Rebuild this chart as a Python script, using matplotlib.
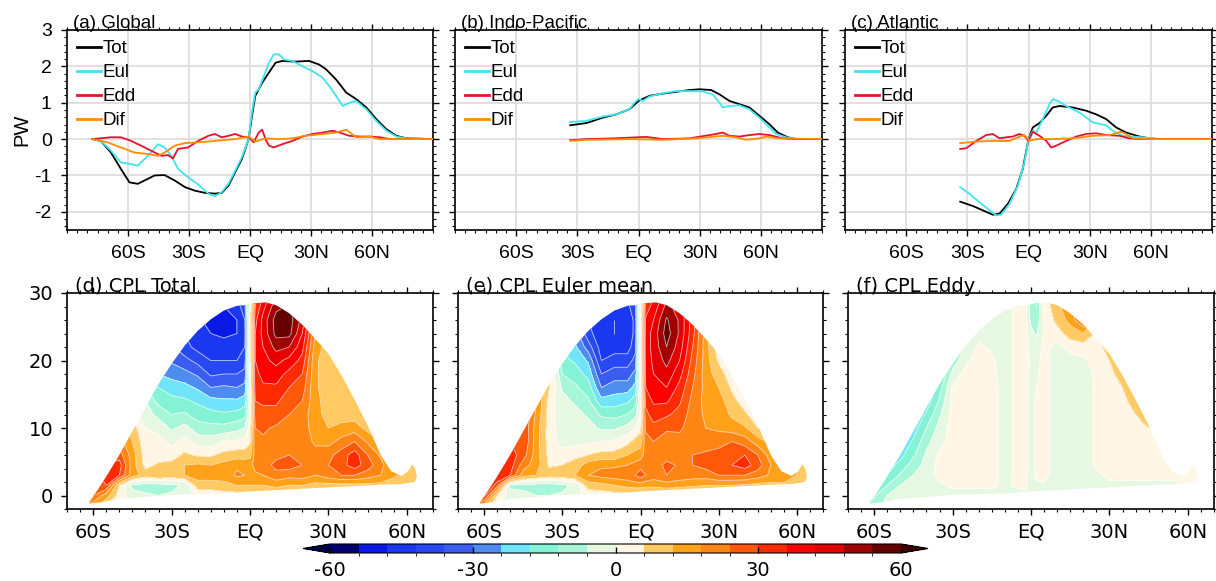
import numpy as np
import matplotlib
matplotlib.use('Agg')
import matplotlib.pyplot as plt
from matplotlib.colors import ListedColormap, BoundaryNorm
from matplotlib.patches import Polygon
from matplotlib.ticker import MultipleLocator
from matplotlib.lines import Line2D

# ---------------- top row: heat transport (PW) ----------------
glob_tot_lat = [-77.5, -73.4, -68.4, -63.5, -59.3, -55.2, -51.9, -46.9, -42, -37, -32, -27, -22.1, -17.2, -13.9, -10.6, -7.3, -4, -0.7, 1, 2.6, 6, 9.3, 12.6, 15.9, 22.5, 29, 34, 37.4, 42.3, 47.3, 52.2, 57.2, 62.1, 67.1, 72, 77, 90]
glob_tot = [0, -0.05, -0.37, -0.82, -1.19, -1.23, -1.14, -1.0, -0.99, -1.14, -1.32, -1.42, -1.48, -1.5, -1.48, -1.28, -0.91, -0.55, 0, 0.64, 1.19, 1.55, 1.83, 2.1, 2.15, 2.13, 2.15, 2.05, 1.92, 1.64, 1.28, 1.1, 0.87, 0.55, 0.27, 0.09, 0.02, 0]
glob_eul_lat = [-77.5, -73.4, -68.4, -63.5, -59.3, -55.2, -51.9, -48.6, -45.3, -42, -38.7, -35.4, -30.4, -25.5, -20.5, -17.2, -13.9, -10.6, -7.3, -4, -0.7, 1.0, 2.6, 4.3, 6.8, 9.3, 11.7, 14.2, 16.7, 20.8, 25.8, 30.7, 35.7, 39, 42.3, 45.6, 48.9, 52.2, 57.2, 62.1, 67.1, 72, 77, 90]
glob_eul = [0, -0.05, -0.32, -0.64, -0.68, -0.73, -0.55, -0.37, -0.14, -0.23, -0.46, -0.82, -1.05, -1.25, -1.5, -1.57, -1.46, -1.23, -0.87, -0.5, 0, 0.75, 1.28, 1.37, 1.73, 2.1, 2.33, 2.33, 2.19, 2.15, 2.0, 1.87, 1.69, 1.46, 1.19, 0.91, 1.0, 1.05, 0.82, 0.5, 0.23, 0.07, 0.02, 0]
glob_edd_lat = [-77.5, -68.4, -63.5, -58.5, -53.6, -48.6, -43.6, -40.3, -37.9, -35.4, -30.4, -25.5, -20.5, -17.2, -13.9, -10.6, -7.3, -4, -0.5, 1.8, 4.3, 6, 7.6, 9.3, 11.7, 15.9, 20.8, 25.8, 30.7, 35.7, 40.7, 44, 48.9, 53.9, 58.8, 63.8, 68.8, 90]
glob_edd = [0, 0.05, 0.05, -0.05, -0.18, -0.32, -0.46, -0.44, -0.53, -0.27, -0.23, -0.05, 0.09, 0.14, 0.05, 0.09, 0.14, 0.07, 0.05, -0.09, 0.18, 0.26, 0.0, -0.18, -0.23, -0.14, -0.05, 0.07, 0.14, 0.18, 0.23, 0.18, 0.09, 0.07, 0.07, 0.05, 0, 0]
glob_dif_lat = [-77.5, -70, -63.5, -56.9, -50.2, -45.3, -42, -37, -32, -25.5, -17.2, -7.3, -0.7, 1, 2.6, 7.6, 14.2, 20.8, 27.4, 35.7, 42.3, 47.3, 52.2, 58.8, 63.8, 90]
glob_dif = [0, -0.09, -0.23, -0.37, -0.41, -0.46, -0.37, -0.18, -0.11, -0.09, -0.05, 0, 0.07, 0, -0.07, 0.02, 0, 0.02, 0.09, 0.14, 0.18, 0.26, 0.05, 0.07, 0, 0]

ip_tot_lat = [-33.5, -25.6, -17.5, -10.9, -4.4, 0, 5.4, 11.9, 18.5, 25, 29.9, 35.6, 39.7, 44.6, 49.5, 54.4, 59.3, 64.2, 68.3, 73.2, 77.3, 90]
ip_tot = [0.38, 0.44, 0.59, 0.68, 0.82, 1.05, 1.19, 1.25, 1.30, 1.35, 1.37, 1.35, 1.23, 1.05, 0.96, 0.87, 0.64, 0.41, 0.18, 0.05, 0, 0]
ip_eul_lat = [-33.5, -25.6, -17.5, -10.9, -4.4, -2, 0, 2.1, 5.4, 11.9, 18.5, 25, 31.5, 36.4, 39.7, 41.3, 44.6, 49.5, 54.4, 59.3, 62.6, 67.5, 72.4, 77.3, 90]
ip_eul = [0.47, 0.5, 0.62, 0.68, 0.82, 1.0, 1.1, 1.05, 1.17, 1.26, 1.32, 1.32, 1.31, 1.23, 1.0, 0.87, 0.91, 0.93, 0.82, 0.59, 0.41, 0.14, 0.05, 0, 0]
ip_edd_lat = [-33.5, -25.6, -12.5, 3.8, 11.9, 25, 38, 41.3, 44.6, 49.5, 54.4, 59.3, 64.2, 70.7, 77.3, 90]
ip_edd = [-0.03, 0, 0.02, 0.06, 0, 0.02, 0.14, 0.18, 0.09, 0.07, 0.11, 0.14, 0.11, 0.02, 0, 0]
ip_dif_lat = [-33.5, -25.6, -4.4, 11.9, 28.3, 41.3, 47.9, 52.8, 59.3, 62.6, 69, 90]
ip_dif = [-0.05, -0.02, 0, -0.02, 0.02, 0.09, 0.05, -0.02, 0.02, 0.07, 0.02, 0]

atl_tot_lat = [-33.5, -27.3, -22.4, -17.5, -14.2, -10.1, -6, -2.8, 0, 2.1, 5.4, 8.7, 11.9, 15.2, 21.7, 28.3, 33.2, 38.1, 43, 47.9, 54.4, 59.3, 64.2, 90]
atl_tot = [-1.72, -1.84, -1.96, -2.08, -2.05, -1.78, -1.37, -0.82, 0, 0.32, 0.44, 0.64, 0.87, 0.91, 0.87, 0.78, 0.68, 0.55, 0.32, 0.18, 0.07, 0.02, 0, 0]
atl_eul_lat = [-33.5, -28.9, -24, -19.1, -15.8, -13.4, -9.3, -5.2, -2, 0, 2.1, 3.8, 7, 10.3, 11.9, 14.4, 18.5, 25, 31.5, 38.1, 41.3, 46.2, 51.1, 56, 64.2, 90]
atl_eul = [-1.32, -1.51, -1.74, -1.96, -2.1, -2.08, -1.78, -1.28, -0.64, 0, 0.23, 0.18, 0.55, 0.96, 1.1, 1.05, 0.91, 0.73, 0.46, 0.38, 0.23, 0.09, 0.07, 0.05, 0, 0]
atl_edd_lat = [-33.5, -30.5, -25.6, -20.8, -17.5, -14.2, -10.9, -7.7, -4.4, -2, 0, 2.1, 5.4, 8.7, 11.1, 13.6, 18.5, 23.4, 28.3, 33.2, 38.1, 44.6, 49.5, 54.4, 90]
atl_edd = [-0.27, -0.25, -0.05, 0.11, 0.14, 0.02, 0.05, 0.07, 0.14, 0.09, -0.05, 0.2, 0.09, -0.05, -0.23, -0.18, -0.05, 0.07, 0.14, 0.16, 0.11, 0.09, 0.02, 0, 0]
atl_dif_lat = [-33.5, -25.6, -17.5, -9.3, -4.4, -2, 0.5, 3.8, 11.9, 21.7, 31.5, 39.7, 45.4, 47.9, 51.1, 60, 90]
atl_dif = [-0.11, -0.07, -0.05, -0.05, 0.07, 0.11, -0.05, 0, 0, 0.02, 0.09, 0.11, 0.2, 0.14, 0.02, 0, 0]

top_titles = ['(a) Global', '(b) Indo-Pacific', '(c) Atlantic']
series_names = ['Tot', 'Eul', 'Edd', 'Dif']
series_colors = ['#000000', '#3ee6f0', '#e8102e', '#ff8c00']

# ---------------- bottom row: overturning (coarse grid) ----------------
grid_lat = [-65, -60, -55, -50, -45, -40, -35, -30, -25, -20, -15, -10, -5, -2, 0, 2, 5, 10, 15, 20, 25, 30, 35, 40, 45, 50, 55, 60, 65]
grid_lev = [-2, 0, 1.5, 3, 4.5, 6, 8, 10, 12, 14, 16, 18, 20, 22, 24, 26, 28, 30]

# each inner list: one latitude column, values from grid_lev[0] upward
total_cols = [
    [12, 24, 27, 27, 27, 21, 15, 9, 3, -3, -9, -15, -21, -27, -27, -27, -27, -27],
    [12, 24, 27, 27, 27, 21, 15, 9, 3, -3, -9, -15, -21, -27, -27, -27, -27, -27],
    [3, 15, 30, 33, 30, 21, 15, 9, 3, -3, -9, -15, -21, -27, -27, -27, -27, -27],
    [0, 3, 6, 30, 33, 27, 21, 15, 9, 3, -3, -9, -15, -21, -27, -30, -30, -30],
    [0, -3, -8, 15, 15, 15, 12, 9, 3, -3, -9, -15, -21, -27, -30, -30, -30, -30],
    [0, -5, -9, 9, 4, 3, 2, 0, -3, -6, -12, -18, -24, -30, -33, -33, -33, -33],
    [0, -6, -9, 12, 7, 3, 2, -2, -8, -14, -18, -24, -30, -33, -36, -36, -36, -36],
    [0, -5, -8, 10, 8, 3, -2, -7, -12, -16, -21, -26, -31, -35, -38, -38, -38, -38],
    [0, -3, -5, 12, 12, 7, 2, -4, -11, -17, -22, -28, -34, -40, -42, -42, -42, -42],
    [0, 2, 9, 15, 13, 5, -3, -9, -15, -19, -25, -31, -38, -44, -47, -47, -47, -47],
    [0, 2, 9, 15, 12, 5, -3, -10, -16, -22, -30, -37, -42, -46, -48, -50, -50, -50],
    [0, 3, 10, 15, 14, 8, 0, -10, -17, -23, -29, -36, -42, -46, -49, -50, -48, -46],
    [0, 3, 12, 19, 17, 9, 1, -8, -16, -23, -30, -36, -42, -46, -48, -48, -45, -43],
    [0, 3, 12, 18, 16, 9, 2, -6, -14, -21, -28, -34, -39, -42, -44, -42, -38, -32],
    [0, 3, 12, 17, 16, 10, 5, 2, 0, -1, -1, -1, -1, 0, 0, 0, 0, 0],
    [0, 3, 12, 17, 20, 21, 22, 24, 27, 30, 33, 34, 36, 36, 36, 34, 30, 27],
    [0, 3, 12, 18, 21, 22, 23, 25, 28, 31, 35, 38, 40, 42, 44, 44, 40, 36],
    [0, 4, 14, 22, 26, 22, 21, 23, 28, 31, 35, 39, 44, 50, 56, 57, 52, 46],
    [0, 4, 12, 20, 27, 24, 21, 21, 24, 27, 30, 34, 40, 48, 56, 57, 55, 52],
    [0, 4, 12, 21, 24, 24, 21, 21, 21, 24, 27, 30, 34, 38, 42, 46, 46, 46],
    [0, 3, 10, 18, 21, 20, 17, 15, 14, 14, 13, 13, 13, 15, 18, 20, 20, 20],
    [0, 3, 10, 21, 24, 22, 16, 12, 10, 9, 9, 9, 9, 9, 9, 9, 9, 9],
    [0, 3, 10, 24, 28, 27, 20, 14, 9, 9, 9, 9, 9, 9, 9, 9, 9, 9],
    [0, 3, 10, 24, 33, 33, 24, 15, 9, 8, 8, 8, 8, 8, 8, 8, 8, 8],
    [0, 3, 10, 21, 27, 24, 17, 10, 8, 8, 8, 8, 8, 8, 8, 8, 8, 8],
    [0, 3, 10, 18, 20, 17, 12, 8, 8, 8, 8, 8, 8, 8, 8, 8, 8, 8],
    [0, 3, 9, 13, 12, 10, 8, 8, 8, 8, 8, 8, 8, 8, 8, 8, 8, 8],
    [0, 3, 8, 10, 9, 8, 8, 8, 8, 8, 8, 8, 8, 8, 8, 8, 8, 8],
    [0, 3, 7, 9, 9, 8, 8, 8, 8, 8, 8, 8, 8, 8, 8, 8, 8, 8],
]
euler_cols = [
    [10, 33, 39, 39, 36, 33, 30, 27, 24, 21, 18, 15, 12, 9, 6, 3, 0, 0],
    [10, 33, 39, 39, 36, 33, 30, 27, 24, 21, 18, 15, 12, 9, 6, 3, 0, 0],
    [0, 6, 27, 36, 36, 33, 30, 27, 24, 21, 18, 15, 12, 9, 6, 3, 0, 0],
    [0, -3, -8, 30, 33, 33, 30, 27, 24, 21, 18, 15, 12, 9, 6, 3, 0, 0],
    [0, -4, -8, 15, 21, 27, 30, 30, 30, 27, 24, 21, 18, 15, 12, 9, 6, 3],
    [0, -6, -9, 12, 15, 15, 15, 15, 17, 18, 20, 20, 20, 18, 15, 12, 9, 6],
    [0, -6, -9, 9, 5, 4, 3, 3, 3, 4, 6, 9, 12, 12, 12, 12, 12, 12],
    [0, -5, -8, 10, 6, 2, -2, -3, -3, -4, -7, -12, -16, -19, -22, -22, -22, -22],
    [0, -2, -4, 12, 9, 4, -2, -3, -4, -7, -11, -15, -19, -23, -27, -28, -28, -28],
    [0, 2, 9, 18, 15, 6, -1, -4, -7, -11, -15, -20, -25, -33, -40, -42, -42, -42],
    [0, 2, 10, 20, 17, 8, 0, -7, -13, -22, -30, -36, -42, -45, -46, -46, -46, -46],
    [0, 3, 12, 21, 17, 8, 1, -7, -14, -21, -27, -33, -39, -45, -48, -48, -45, -42],
    [0, 3, 14, 22, 18, 12, 4, -4, -12, -19, -27, -33, -39, -45, -47, -47, -44, -40],
    [0, 3, 15, 24, 20, 14, 8, 0, -8, -15, -22, -28, -34, -38, -40, -40, -37, -33],
    [0, 3, 15, 27, 22, 15, 9, 4, 1, 0, 0, 0, 0, 0, 0, 0, 0, 0],
    [0, 3, 14, 24, 22, 21, 22, 25, 28, 32, 36, 38, 39, 39, 39, 37, 33, 30],
    [0, 3, 14, 21, 20, 21, 24, 28, 33, 37, 40, 42, 43, 44, 44, 42, 38, 35],
    [0, 4, 15, 24, 26, 21, 21, 25, 31, 37, 42, 46, 50, 54, 57, 55, 50, 45],
    [0, 4, 14, 22, 23, 21, 22, 25, 28, 31, 34, 38, 42, 45, 47, 47, 45, 42],
    [0, 4, 13, 21, 24, 24, 21, 21, 21, 22, 24, 26, 28, 30, 32, 33, 33, 33],
    [0, 3, 12, 21, 26, 25, 21, 18, 17, 16, 16, 15, 15, 15, 15, 15, 15, 15],
    [0, 3, 12, 24, 27, 27, 21, 17, 16, 15, 12, 9, 5, 2, 0, 0, 0, 0],
    [0, 3, 12, 24, 30, 30, 24, 15, 11, 8, 5, 2, 0, 0, 0, 0, 0, 0],
    [0, 3, 11, 24, 33, 30, 21, 13, 7, 3, 0, 0, 0, 0, 0, 0, 0, 0],
    [0, 3, 10, 21, 27, 24, 15, 6, 2, 0, 0, 0, 0, 0, 0, 0, 0, 0],
    [0, 3, 10, 17, 18, 15, 10, 6, 3, 0, 0, 0, 0, 0, 0, 0, 0, 0],
    [0, 3, 11, 15, 13, 10, 8, 6, 3, 0, 0, 0, 0, 0, 0, 0, 0, 0],
    [0, 3, 10, 12, 11, 9, 7, 5, 3, 0, 0, 0, 0, 0, 0, 0, 0, 0],
    [0, 3, 9, 10, 10, 9, 7, 5, 3, 0, 0, 0, 0, 0, 0, 0, 0, 0],
]
eddy_cols = [
    [-12, -16, -18, -20, -21, -22, -22, -22, -22, -22, -22, -22, -22, -22, -22, -22, -22, -22],
    [-8, -13, -16, -19, -21, -22, -22, -22, -22, -22, -22, -22, -22, -22, -22, -22, -22, -22],
    [-3, -6, -12, -18, -21, -22, -23, -23, -23, -23, -23, -23, -23, -23, -23, -23, -23, -23],
    [-2, -3, -6, -11, -16, -20, -23, -24, -24, -24, -24, -24, -24, -24, -24, -24, -24, -24],
    [-2, -3, -4, -6, -9, -13, -17, -21, -23, -24, -24, -24, -24, -24, -24, -24, -24, -24],
    [-2, -2, -3, -3, -4, -5, -8, -12, -17, -22, -25, -25, -25, -25, -25, -25, -25, -25],
    [-1, -2, -1, 2, 2, 1, -2, -4, -7, -11, -15, -20, -23, -23, -23, -23, -23, -23],
    [-1, -2, 1, 3, 3, 3, 3, 3, 2, 2, 1, -4, -10, -14, -16, -16, -16, -16],
    [-1, -2, 1, 3, 3, 3, 3, 3, 3, 3, 3, 2, -1, -5, -8, -10, -10, -10],
    [-1, -2, 1, 3, 3, 3, 3, 3, 3, 3, 3, 3, 2, 1, -2, -4, -4, -4],
    [-1, -2, 1, 2, 3, 3, 3, 3, 3, 3, 3, 2, 1, -1, -2, -3, -3, -3],
    [-1, -2, -1, -2, -3, -3, -3, -3, -3, -3, -3, -3, -3, -3, -3, -3, -3, -3],
    [-1, -2, 1, 2, 2, 2, 2, 2, 2, 2, 2, 2, 2, 2, 2, 2, 2, 2],
    [0, -1, 1, 1, 2, 2, 2, 2, 2, 2, 2, 2, 2, 2, 2, 2, 2, 2],
    [0, -2, -2, -2, -2, -2, -2, -2, -2, -2, -2, -2, -1, -2, -4, -8, -10, -10],
    [0, -1, -1, 1, 1, 1, 1, 1, 1, 1, 0, -1, -2, -4, -7, -10, -12, -12],
    [0, -1, -1, 2, 2, 2, 2, 2, 2, 2, 2, 2, 2, 2, 1, 0, 2, 4],
    [0, -2, -2, -3, -3, -3, -3, -3, -3, -3, -3, -3, -3, -2, 3, 8, 10, 10],
    [0, -2, -2, -3, -3, -3, -3, -3, -3, -3, -3, -3, -2, 2, 9, 14, 18, 20],
    [0, -2, -2, -3, -3, -3, -3, -3, -3, -3, -3, -2, -1, 3, 12, 25, 28, 28],
    [0, -2, -1, -1, 1, 1, 1, 1, 1, 1, 1, 1, 2, 3, 5, 8, 8, 8],
    [0, -2, -1, 1, 2, 2, 3, 3, 3, 3, 3, 4, 6, 9, 10, 10, 10, 10],
    [0, -2, -1, 1, 2, 2, 3, 3, 3, 4, 6, 9, 12, 12, 12, 12, 12, 12],
    [0, -2, -1, 1, 2, 3, 3, 4, 6, 9, 12, 12, 12, 12, 12, 12, 12, 12],
    [0, -2, -1, 1, 2, 3, 4, 6, 9, 12, 12, 12, 12, 12, 12, 12, 12, 12],
    [0, -2, -1, 1, 2, 2, 2, 2, 2, 2, 2, 2, 2, 2, 2, 2, 2, 2],
    [0, -2, -1, 1, 1, 1, 1, 1, 1, 1, 1, 1, 1, 1, 1, 1, 1, 1],
    [0, -1, 1, 2, 2, 2, 2, 2, 2, 2, 2, 2, 2, 2, 2, 2, 2, 2],
    [0, -1, 1, 2, 2, 2, 2, 2, 2, 2, 2, 2, 2, 2, 2, 2, 2, 2],
]
bottom_titles = ['(d) CPL Total', '(e) CPL Euler mean', '(f) CPL Eddy']

# outline of the region holding data (lat, level)
dome_top_lat = [-61.5, -58, -55, -50, -45, -40, -35, -30, -25, -20, -15, -10, -5, -1.5, 2, 6, 10, 15, 20, 25, 30, 35, 40, 45, 50, 54, 58, 60.5, 62, 63.2, 63.8]
dome_top_lev = [-1.0, 1.0, 2.8, 6.0, 9.5, 13.0, 16.5, 19.5, 22.2, 24.4, 26.1, 27.4, 28.1, 28.2, 28.5, 28.6, 28.2, 27.0, 25.3, 23.2, 21.0, 17.8, 14.2, 10.4, 6.0, 3.6, 2.9, 3.6, 4.6, 4.0, 2.8]
dome_bot_lat = [63.0, 58, 50, 40, 30, 20, 10, 0, -10, -20, -30, -40, -50, -57, -61.5]
dome_bot_lev = [2.0, 1.7, 1.6, 1.4, 1.2, 1.0, 0.8, 0.6, 0.3, 0.2, 0.1, -0.2, -0.5, -1.0, -1.2]

contour_levels = list(range(-60, 61, 6))
fill_colors = ['#00006e', '#0a18e6', '#1a38f0', '#2848f2', '#3a5cf0', '#4f8cf0', '#70e4fa', '#84f2d4',
               '#a8f6da', '#e6f8e2', '#fff6e6', '#ffca64', '#ffa21a', '#ff8614', '#ff5808', '#ff2a00',
               '#ff0000', '#e40000', '#a00000', '#640000']
under_color = '#00004a'
over_color = '#3a0000'

cbar_ticks = [-60, -30, 0, 30, 60]
lat_ticks = [-60, -30, 0, 30, 60]
lat_labels = ['60S', '30S', 'EQ', '30N', '60N']

# ---------------- figure ----------------
W, H = 1216, 581
fig = plt.figure(figsize=(W / 100, H / 100), dpi=100)


def rect(l, t, r, b):
    return [l / W, 1 - b / H, (r - l) / W, (b - t) / H]


top_rects = [rect(67, 30, 433, 230), rect(455, 30, 822, 230), rect(845, 30, 1212, 230)]
bot_rects = [rect(67, 293, 433, 509), rect(458, 293, 823, 509), rect(848, 293, 1214, 509)]

top_data = [
    [(glob_tot_lat, glob_tot), (glob_eul_lat, glob_eul), (glob_edd_lat, glob_edd), (glob_dif_lat, glob_dif)],
    [(ip_tot_lat, ip_tot), (ip_eul_lat, ip_eul), (ip_edd_lat, ip_edd), (ip_dif_lat, ip_dif)],
    [(atl_tot_lat, atl_tot), (atl_eul_lat, atl_eul), (atl_edd_lat, atl_edd), (atl_dif_lat, atl_dif)],
]

AR = 'Liberation Sans'
DV = 'DejaVu Sans'

for i in range(3):
    ax = fig.add_axes(top_rects[i])
    ax.set_xlim(-90, 90)
    ax.set_ylim(-2.5, 3)
    ax.set_xticks(lat_ticks)
    ax.set_xticklabels(lat_labels, fontfamily=AR, fontsize=14)
    ax.xaxis.set_minor_locator(MultipleLocator(5))
    ax.set_yticks([-2, -1, 0, 1, 2, 3])
    ax.yaxis.set_minor_locator(MultipleLocator(0.2))
    ax.grid(True, which='major', color='#dddddd', lw=1.3)
    ax.set_axisbelow(True)
    ax.tick_params(which='major', direction='out', length=4, width=1, top=True, right=True, pad=7)
    ax.tick_params(which='minor', direction='out', length=2, width=0.8, top=True, right=True)
    if i == 0:
        ax.set_yticklabels(['-2', '-1', '0', '1', '2', '3'], fontfamily=AR, fontsize=14)
        ax.set_ylabel('PW', fontfamily=AR, fontsize=14.5, labelpad=2)
    else:
        ax.set_yticklabels([])
    for sp in ax.spines.values():
        sp.set_linewidth(1.2)
    handles = []
    for (lats, vals), col, name in zip(top_data[i], series_colors, series_names):
        ax.plot(lats, vals, color=col, lw=1.3, zorder=3 if name != 'Tot' else 2)
        handles.append(Line2D([], [], color=col, lw=2))
    ax.legend(handles, series_names, loc='upper left', frameon=False, prop={'family': AR, 'size': 13.5},
              handlelength=1.25, handletextpad=0.12, labelspacing=0.36, borderaxespad=0.2, borderpad=0.35)
    ax.text(0.017, 1.012, top_titles[i], transform=ax.transAxes, fontfamily=AR, fontsize=13.5,
            va='baseline', ha='left')

cmap = ListedColormap(fill_colors)
cmap.set_under(under_color)
cmap.set_over(over_color)
norm = BoundaryNorm(contour_levels, cmap.N)

lat_arr = np.array(grid_lat, dtype=float)
lev_arr = np.array(grid_lev, dtype=float)
fields = [np.array(total_cols, dtype=float).T, np.array(euler_cols, dtype=float).T, np.array(eddy_cols, dtype=float).T]
dome_xy = list(zip(dome_top_lat, dome_top_lev)) + list(zip(dome_bot_lat, dome_bot_lev))

cs_main = None
for i in range(3):
    ax = fig.add_axes(bot_rects[i])
    cs = ax.contourf(lat_arr, lev_arr, fields[i], levels=contour_levels, cmap=cmap, norm=norm, extend='both')
    poly = Polygon(dome_xy, closed=True, transform=ax.transData, facecolor='none', edgecolor='none')
    cs.set_clip_path(poly)
    cl = ax.contour(lat_arr, lev_arr, fields[i], levels=contour_levels, colors='white',
                    linewidths=0.6, alpha=0.7, linestyles='solid')
    cl.set_clip_path(poly)
    if cs_main is None:
        cs_main = cs
    ax.set_xlim(-70, 70)
    ax.set_ylim(-2, 30)
    ax.set_xticks(lat_ticks)
    ax.set_xticklabels(lat_labels, fontfamily=DV, fontsize=14)
    ax.xaxis.set_minor_locator(MultipleLocator(5))
    ax.set_yticks([0, 10, 20, 30])
    ax.yaxis.set_minor_locator(MultipleLocator(2))
    ax.tick_params(which='major', direction='out', length=4, width=1, top=True, right=True, pad=6)
    ax.tick_params(which='minor', direction='out', length=2, width=0.8, top=True, right=True)
    if i == 0:
        ax.set_yticklabels(['0', '10', '20', '30'], fontfamily=DV, fontsize=14)
    else:
        ax.set_yticklabels([])
    for sp in ax.spines.values():
        sp.set_linewidth(1.2)
    ax.text(0.022, 1.006, bottom_titles[i], transform=ax.transAxes, fontfamily=DV, fontsize=14,
            va='baseline', ha='left')

cax = fig.add_axes(rect(303, 544, 928, 553))
cb = fig.colorbar(cs_main, cax=cax, orientation='horizontal', extendfrac=27 / 571, ticks=cbar_ticks)
cb.ax.tick_params(direction='in', length=4, width=1, pad=6)
cb.ax.set_xticklabels([str(t) for t in cbar_ticks], fontfamily=DV, fontsize=14)
cb.outline.set_linewidth(0.8)

fig.savefig('out.png', dpi=100)
